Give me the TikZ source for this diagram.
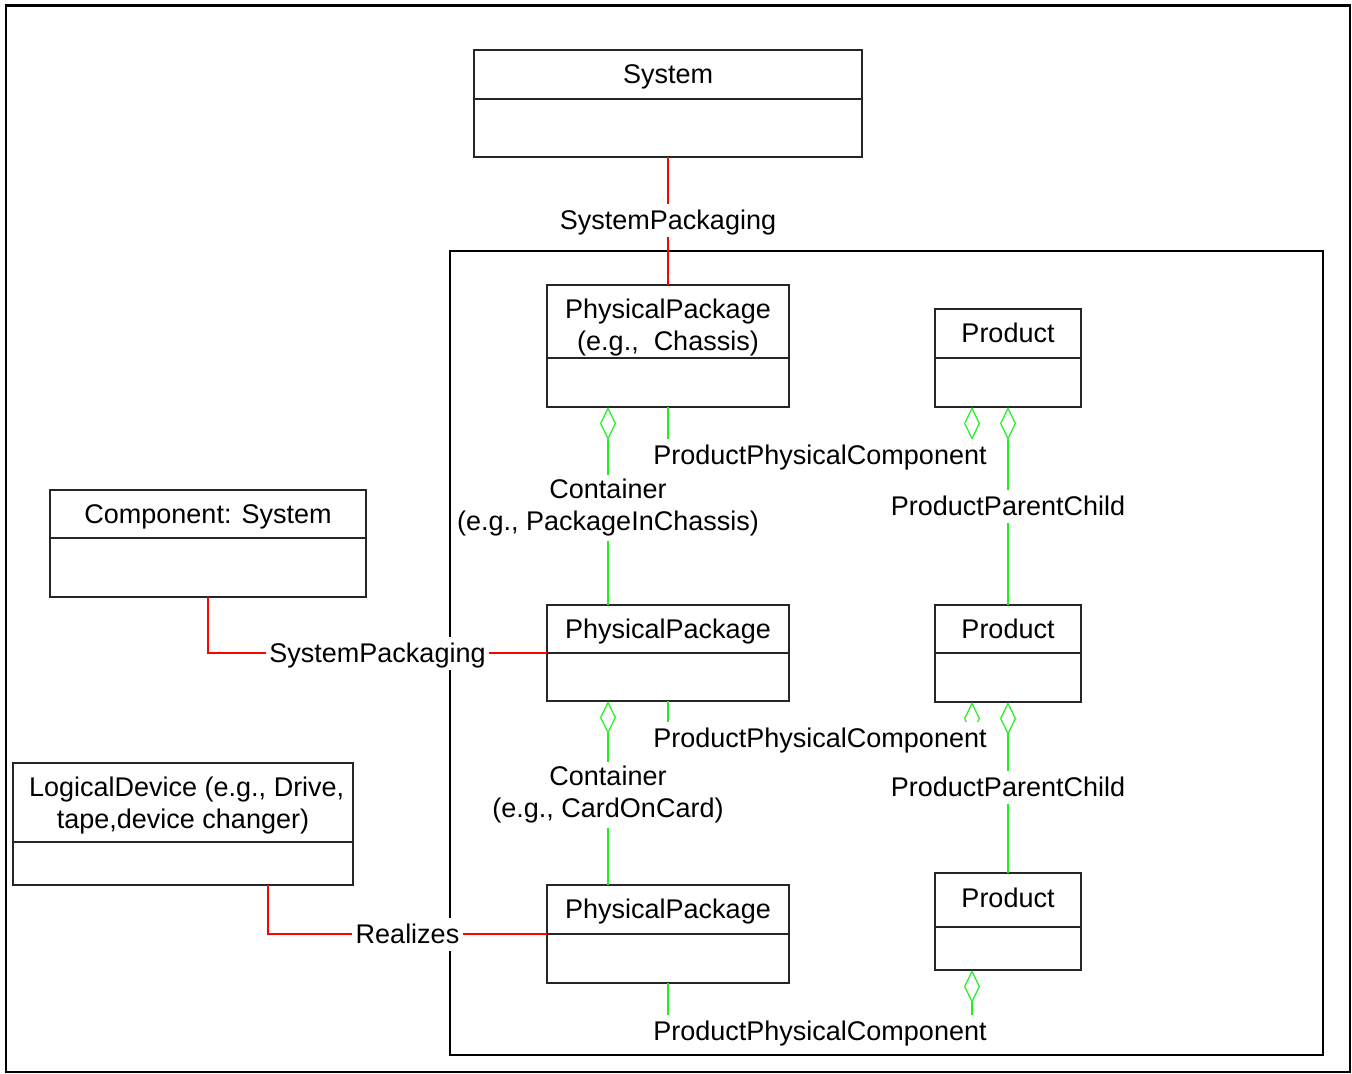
\documentclass[tikz,border=0pt]{standalone}
\usepackage{fontspec}
\setmainfont{Liberation Sans}
\usetikzlibrary{arrows.meta,fit,calc}
\definecolor{umlgreen}{RGB}{30,240,30}
\newcommand{\umlclass}[8][]{%
  \node[classbox, fit={(#3,#4) (#5,#6)}] (#2) {};
  \draw[divider] (#3,#7) -- (#5,#7);
  \node[classname, #1] (#2-n) at ({(#3+#5)/2},{(#4+#7)/2}) {#8};
}
\begin{document}
\begin{tikzpicture}[x=0.5pt,y=-0.5pt,
  classbox/.style={draw=black!85, line width=0.55pt, inner sep=0pt, outer sep=0pt},
  divider/.style={draw=black!85, line width=0.55pt},
  txt/.style={font=\fontsize{13.5}{16}\selectfont},
  classname/.style={txt, align=center, inner sep=0pt, text height=11pt, text depth=2pt},
  multi/.style={text height=, text depth=},
  lbl/.style={txt, fill=white, inner sep=1.75pt, text height=11pt, text depth=2pt},
  lbltwo/.style={txt, align=center, fill=white, inner sep=2pt, yshift=-1pt},
  redline/.style={draw=red, line width=0.6pt},
  greenline/.style={draw=umlgreen, line width=0.6pt},
  aggs/.style={{Diamond[open,length=16.5pt,width=8pt]}-},
  agge/.style={-{Diamond[open,length=16.5pt,width=8pt]}}
]
\useasboundingbox (0,0) rectangle (1352,1074);
% frames
\draw[line width=1.1pt] (6,5.5) rectangle (1350,1072);
\draw[line width=0.8pt] (450,251) rectangle (1323,1055);

% classes
\umlclass{sys}{474}{50}{862}{157}{99}{System}
\umlclass[multi, yshift=-3pt]{pp1}{547}{285}{789}{407}{358}{PhysicalPackage\\(e.g.,~ Chassis)}
\umlclass{prod1}{935}{309}{1081}{407}{358}{Product}
\umlclass{comp}{50}{490}{366}{597}{538}{Component: System}
\umlclass{pp2}{547}{605}{789}{701}{653}{PhysicalPackage}
\umlclass{prod2}{935}{605}{1081}{702}{653}{Product}
\umlclass[multi, yshift=-1.5pt]{ld}{13}{763}{353}{885}{842}{\hspace*{0.278em}LogicalDevice (e.g., Drive,\\tape,device changer)}
\umlclass{pp3}{547}{885}{789}{983}{934}{PhysicalPackage}
\umlclass[yshift=1pt]{prod3}{935}{873}{1081}{970}{927}{Product}

% anchor points
\coordinate (ldr) at ($(ld.south west)+(255,0)$);
\coordinate (pp1c) at ($(pp1.south west)+(61,0)$);
\coordinate (pp2t) at ($(pp2.north west)+(61,0)$);
\coordinate (pp2c) at ($(pp2.south west)+(61,0)$);
\coordinate (pp3t) at ($(pp3.north west)+(61,0)$);
\coordinate (p1b) at ($(prod1.south west)+(37,0)$);
\coordinate (p2b) at ($(prod2.south west)+(37,0)$);
\coordinate (p3b) at ($(prod3.south west)+(37,0)$);
\coordinate (ppcA) at (820,455);
\coordinate (ppcB) at (820,738);
\coordinate (ppcC) at (820,1031);

% red connectors
\draw[redline] (sys.south) -- (pp1.north)
  node[lbl, midway] (spA) {SystemPackaging};
\draw[redline] (comp.south) |- (pp2.west)
  node[lbl, pos=0.75] (spB) {SystemPackaging};
\draw[redline] (ldr) |- (pp3.west)
  node[lbl, pos=0.75] (rz) {Realizes};

% containers
\draw[greenline, aggs] (pp1c) -- (pp2t)
  node[lbltwo, midway] (c1) {Container\\(e.g., PackageInChassis)};
\draw[greenline, aggs] (pp2c) -- (pp3t)
  node[lbltwo, midway] (c2) {Container\\(e.g., CardOnCard)};

% product parent child
\draw[greenline, aggs] (prod1.south) -- (prod2.north)
  node[lbl, midway] (pc1) {ProductParentChild};
\draw[greenline, aggs] (prod2.south) -- (prod3.north)
  node[lbl, midway] (pc2) {ProductParentChild};

% product physical component
\draw[greenline, agge] (pp1.south) |- (ppcA) -| (p1b);
\node[lbl] (ppc1) at (ppcA) {ProductPhysicalComponent};
\draw[greenline, agge] (pp2.south) |- (ppcB) -| (p2b);
\node[lbl] (ppc2) at (ppcB) {ProductPhysicalComponent};
\draw[greenline, agge] (pp3.south) |- (ppcC) -| (p3b);
\node[lbl] (ppc3) at (ppcC) {ProductPhysicalComponent};
\end{tikzpicture}
\end{document}
